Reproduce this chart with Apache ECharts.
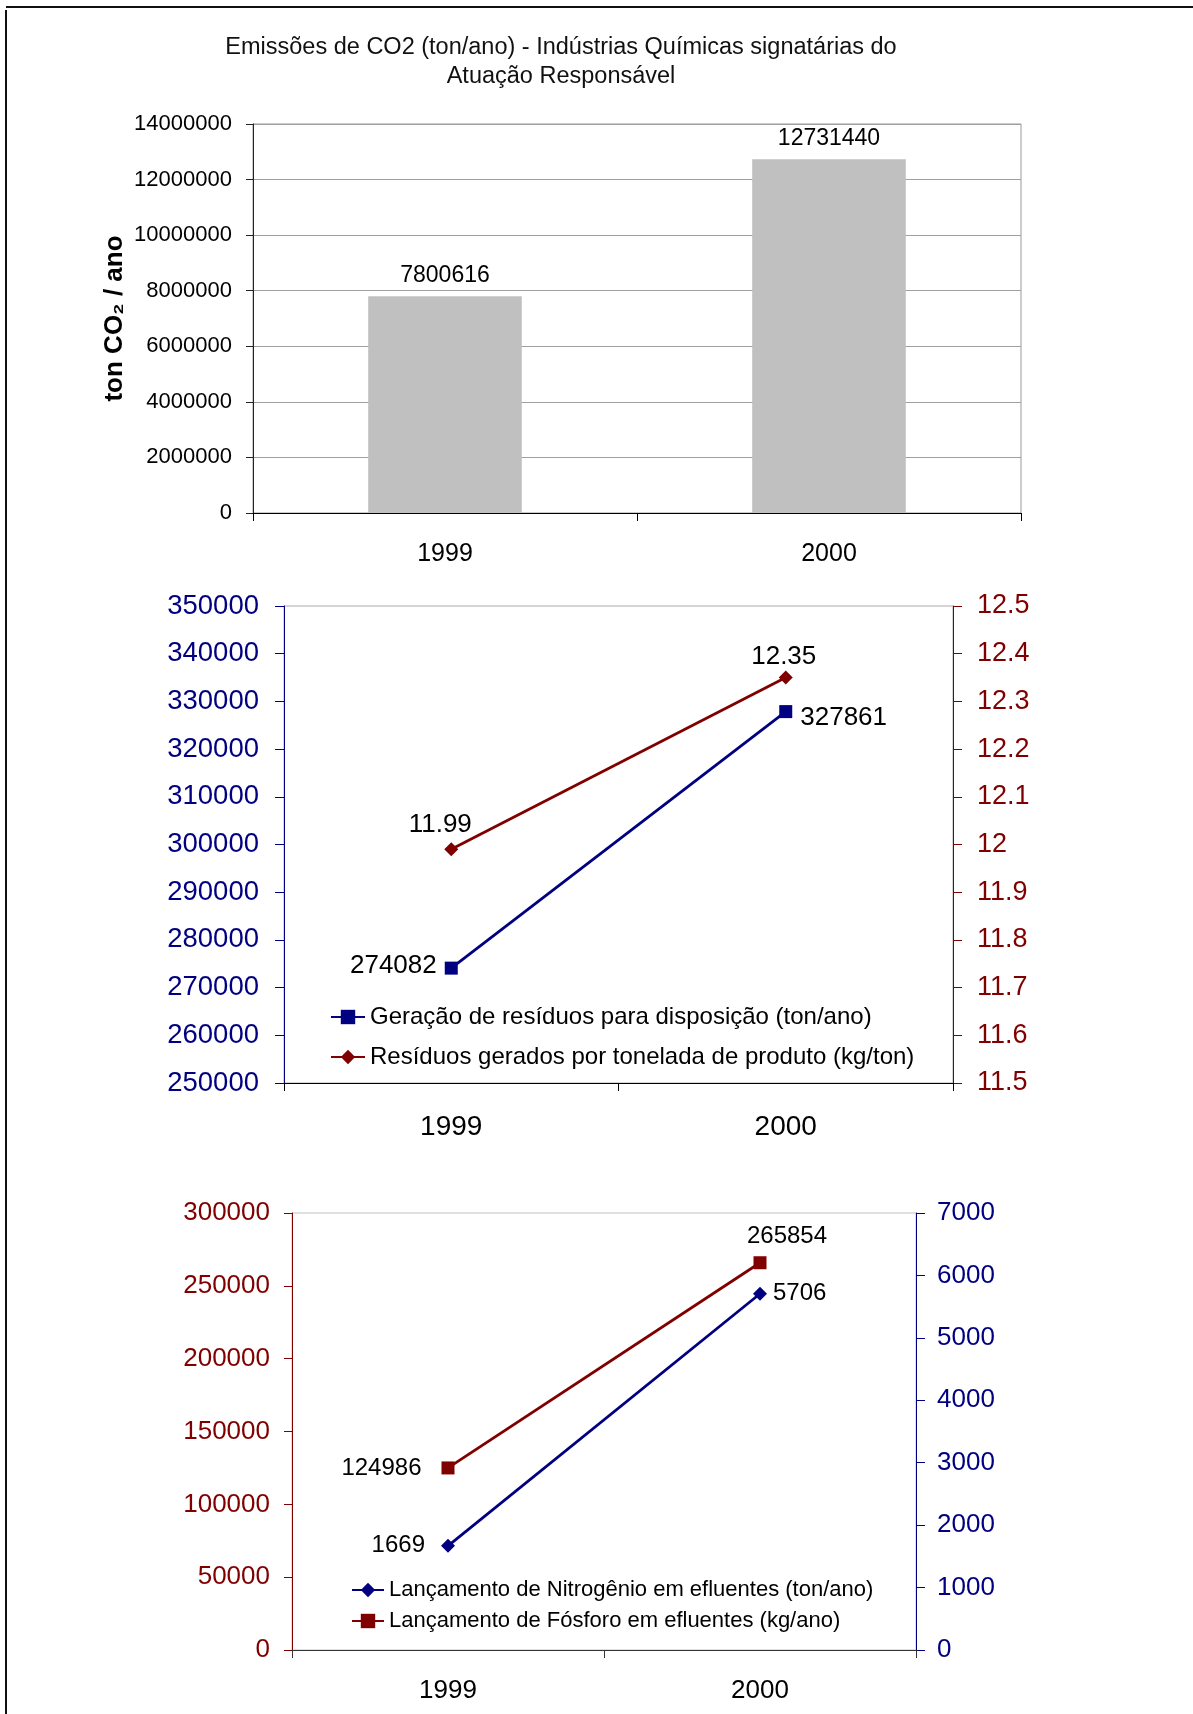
<!DOCTYPE html>
<html>
<head>
<meta charset="utf-8">
<script src="https://cdn.jsdelivr.net/npm/echarts@6/dist/echarts.min.js"></script>
<style>
  html, body { margin: 0; padding: 0; background: #fff; }
  #wrap { position: relative; width: 1193px; height: 1714px; }
  #chart { position: absolute; left: 0; top: 0; width: 1193px; height: 1714px; }
  .frameTop { position: absolute; left: 6px; top: 6px; width: 1187px; height: 0; border-top: 2px solid #111; }
  .frameLeft { position: absolute; left: 5px; top: 10px; width: 0; height: 1704px; border-left: 2px solid #111; }
</style>
</head>
<body>
<div id="wrap">
  <div id="chart"></div>
  <div class="frameTop"></div>
  <div class="frameLeft"></div>
</div>
<script>
// ---------------- DATA ----------------
const years = ['1999', '2000'];

// Chart 1 – CO2 emissions
const co2Title = 'Emissões de CO2 (ton/ano) - Indústrias Químicas signatárias do\nAtuação Responsável';
const co2AxisName = 'ton CO\u2082 / ano';
const co2Values = [7800616, 12731440];
const co2Axis = { min: 0, max: 14000000, interval: 2000000 };

// Chart 2 – waste
const residuosName = 'Geração de resíduos para disposição (ton/ano)';
const residuosValues = [274082, 327861];
const residuosAxis = { min: 250000, max: 350000, interval: 10000 };
const residuosTonName = 'Resíduos gerados por tonelada de produto (kg/ton)';
const residuosTonValues = [11.99, 12.35];
const residuosTonAxis = { min: 11.5, max: 12.5, interval: 0.1 };

// Chart 3 – effluents
const nitrogenioName = 'Lançamento de Nitrogênio em efluentes (ton/ano)';
const nitrogenioValues = [1669, 5706];
const nitrogenioAxis = { min: 0, max: 7000, interval: 1000 };
const fosforoName = 'Lançamento de Fósforo em efluentes (kg/ano)';
const fosforoValues = [124986, 265854];
const fosforoAxis = { min: 0, max: 300000, interval: 50000 };

// ---------------- STYLE ----------------
const FONT = "'Liberation Sans', Arial, Helvetica, sans-serif";
const NAVY = '#000080';
const DRED = '#800000';

const plainNum = v => String(Math.round(v * 1000) / 1000);

const chart = echarts.init(document.getElementById('chart'));

function catAxis(gridIndex, fontSize, margin, lineColor) {
  return {
    type: 'category', gridIndex, data: years, boundaryGap: true,
    axisLine: { show: true, lineStyle: { color: lineColor, width: 1 } },
    axisTick: { show: true, alignWithLabel: false, length: 8, lineStyle: { color: lineColor } },
    axisLabel: { fontSize, color: '#000', fontFamily: FONT, margin },
    splitLine: { show: false }
  };
}

function valAxis(gridIndex, cfg, position, color, fontSize, margin, extra) {
  return Object.assign({
    type: 'value', gridIndex, position,
    min: cfg.min, max: cfg.max, interval: cfg.interval,
    axisLine: { show: true, onZero: false, lineStyle: { color, width: 1 } },
    axisTick: { show: true, length: 9, lineStyle: { color } },
    axisLabel: { fontSize, color, fontFamily: FONT, margin, formatter: plainNum },
    splitLine: { show: false }
  }, extra || {});
}

const option = {
  animation: false,
  backgroundColor: '#fff',
  textStyle: { fontFamily: FONT },
  title: {
    text: co2Title,
    left: 556, top: 28, textAlign: 'center',
    textStyle: { fontSize: 23.5, fontWeight: 'normal', color: '#111', fontFamily: FONT, lineHeight: 29 }
  },
  grid: [
    { left: 253, top: 124, width: 768, height: 389, show: true, borderColor: '#999', borderWidth: 1, backgroundColor: 'transparent', containLabel: false, outerBoundsMode: 'none' },
    { left: 284, top: 606, width: 669, height: 477, show: true, borderColor: '#aaa', borderWidth: 1, backgroundColor: 'transparent', containLabel: false, outerBoundsMode: 'none' },
    { left: 292, top: 1213, width: 624, height: 437, show: true, borderColor: '#c0c0c0', borderWidth: 1, backgroundColor: 'transparent', containLabel: false, outerBoundsMode: 'none' }
  ],
  xAxis: [
    catAxis(0, 25, 29, '#000'),
    catAxis(1, 28, 30, '#000'),
    catAxis(2, 26, 28, '#333')
  ],
  yAxis: [
    valAxis(0, co2Axis, 'left', '#000', 22, 21, {
      axisLine: { show: true, lineStyle: { color: '#222', width: 1 } },
      axisTick: { show: true, length: 7, lineStyle: { color: '#222' } },
      axisLabel: { fontSize: 22, color: '#000', fontFamily: FONT, margin: 21, formatter: plainNum },
      splitLine: { show: true, lineStyle: { color: '#a0a0a0', width: 1 } },
      name: co2AxisName, nameLocation: 'middle', nameRotate: 90, nameGap: 125,
      nameMoveOverlap: false,
      nameTextStyle: { fontSize: 26, fontWeight: 'bold', color: '#000', fontFamily: FONT }
    }),
    valAxis(1, residuosAxis, 'left', NAVY, 27.5, 25),
    valAxis(1, residuosTonAxis, 'right', DRED, 27, 24),
    valAxis(2, fosforoAxis, 'left', DRED, 26, 22, { axisTick: { show: true, length: 8, lineStyle: { color: DRED } } }),
    valAxis(2, nitrogenioAxis, 'right', NAVY, 26, 21)
  ],
  legend: [
    {
      data: [residuosName, residuosTonName],
      orient: 'vertical', left: 325, top: 1000, itemGap: 16,
      itemWidth: 34, itemHeight: 18,
      textStyle: { fontSize: 24, color: '#000', fontFamily: FONT }
    },
    {
      data: [nitrogenioName, fosforoName],
      orient: 'vertical', left: 346, top: 1574, itemGap: 9,
      itemWidth: 32, itemHeight: 18,
      textStyle: { fontSize: 22, color: '#000', fontFamily: FONT }
    }
  ],
  series: [
    {
      name: 'CO2', type: 'bar', xAxisIndex: 0, yAxisIndex: 0,
      data: co2Values, barCategoryGap: '60%',
      itemStyle: { color: '#c0c0c0' },
      label: { show: true, position: 'top', distance: 9, fontSize: 23, color: '#000', fontFamily: FONT }
    },
    {
      name: residuosName, type: 'line', xAxisIndex: 1, yAxisIndex: 1,
      symbol: 'rect', symbolSize: 13,
      lineStyle: { color: NAVY, width: 2.8 }, itemStyle: { color: NAVY },
      data: residuosValues.map((v, i) => ({
        value: v,
        label: { position: i === 0 ? 'left' : 'right', distance: 8, offset: i === 0 ? [0, -2] : [0, 6] }
      })),
      label: { show: true, fontSize: 26, color: '#000', fontFamily: FONT }
    },
    {
      name: residuosTonName, type: 'line', xAxisIndex: 1, yAxisIndex: 2,
      symbol: 'diamond', symbolSize: 14,
      lineStyle: { color: DRED, width: 2.8 }, itemStyle: { color: DRED },
      data: residuosTonValues.map((v, i) => ({
        value: v,
        label: { position: 'top', distance: 4, offset: i === 0 ? [-11, 0] : [-2, 3] }
      })),
      label: { show: true, fontSize: 26, color: '#000', fontFamily: FONT }
    },
    {
      name: nitrogenioName, type: 'line', xAxisIndex: 2, yAxisIndex: 4,
      symbol: 'diamond', symbolSize: 14,
      lineStyle: { color: NAVY, width: 2.8 }, itemStyle: { color: NAVY },
      data: nitrogenioValues.map((v, i) => ({
        value: v,
        label: { position: i === 0 ? 'left' : 'right', distance: i === 0 ? 16 : 6 }
      })),
      label: { show: true, fontSize: 24, color: '#000', fontFamily: FONT }
    },
    {
      name: fosforoName, type: 'line', xAxisIndex: 2, yAxisIndex: 3,
      symbol: 'rect', symbolSize: 13,
      lineStyle: { color: DRED, width: 2.8 }, itemStyle: { color: DRED },
      data: fosforoValues.map((v, i) => ({
        value: v,
        label: i === 0 ? { position: 'left', distance: 20 } : { position: 'top', distance: 8, offset: [27, 0] }
      })),
      label: { show: true, fontSize: 24, color: '#000', fontFamily: FONT }
    }
  ]
};

chart.setOption(option);
</script>
</body>
</html>
